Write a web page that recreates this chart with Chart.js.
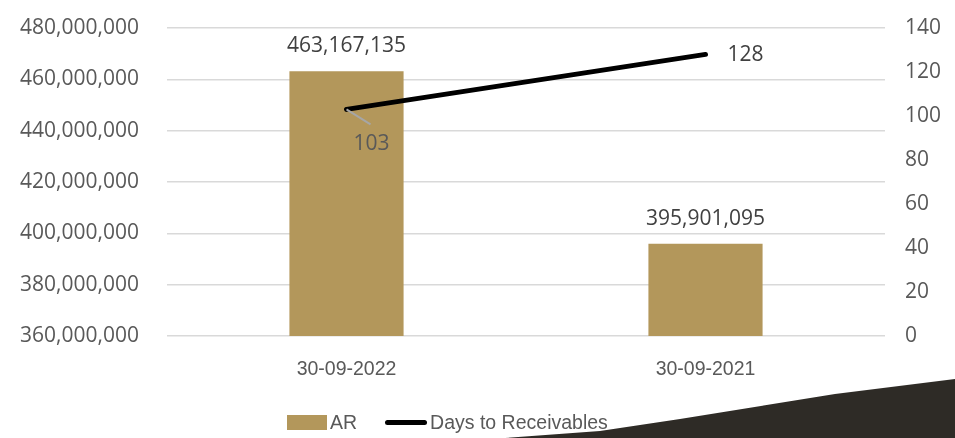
<!DOCTYPE html>
<html>
<head>
<meta charset="utf-8">
<script src="https://cdn.jsdelivr.net/npm/chart.js@4.4.1/dist/chart.umd.min.js"></script>
<style>
    html, body { margin: 0; padding: 0; background: #fff; }
    .wrap { position: relative; width: 955px; height: 438px; overflow: hidden; }
    .corner {
        position: absolute; left: 0; top: 0; width: 955px; height: 438px;
        background: #2e2b26;
        clip-path: polygon(505px 438px, 600px 431px, 680px 419px, 835px 394px, 955px 379px, 955px 438px);
        filter: blur(0.6px);
    }
    canvas { position: absolute; left: 0; top: 0; }
    .legend {
        position: absolute; left: 287px; top: 410px;
        display: flex; align-items: center;
        font-family: 'Liberation Sans Narrow', 'Arial Narrow', sans-serif;
        font-size: 19.5px; color: #595959; line-height: 24px;
    }
    .legend .box { width: 40px; height: 15px; background: #b3975b; margin-right: 3px; }
    .legend .ln { width: 42px; height: 5px; background: #000; border-radius: 3px; margin: 0 3px 0 28px; }
</style>
</head>
<body>
<div class="wrap">
    <div class="corner"></div>
    <canvas id="arChart" width="955" height="438"></canvas>
    <div class="legend">
        <span class="box"></span><span>AR</span>
        <span class="ln"></span><span>Days to Receivables</span>
    </div>
</div>
<script>
    var periods = ['30-09-2022', '30-09-2021'];
    var arValues = [463167135, 395901095];
    var daysValues = [103, 128];

    var tickFont = { family: "'Open Sans', sans-serif", size: 21 };
    var catFont = { family: "'Liberation Sans Narrow', 'Arial Narrow', sans-serif", size: 19.5 };

    // fixed axis widths, and no extra room above/below for the end labels
    function fixWidth(w) {
        return function (s) {
            s.width = w;
            s.paddingTop = 0;
            s.paddingBottom = 0;
        };
    }

    // value labels: above each bar, and next to each point of the days line
    var valueLabels = {
        id: 'valueLabels',
        afterDatasetsDraw: function (chart) {
            var ctx = chart.ctx;
            ctx.save();
            ctx.font = tickFont.size + 'px ' + tickFont.family;
            ctx.fillStyle = '#404040';
            ctx.textAlign = 'center';
            ctx.textBaseline = 'middle';

            chart.getDatasetMeta(0).data.forEach(function (bar, i) {
                ctx.fillText(arValues[i].toLocaleString('en-US'), bar.x, bar.y - 25);
            });

            var pts = chart.getDatasetMeta(1).data;
            // first point: label below right with a leader line
            var p0 = pts[0];
            ctx.strokeStyle = '#a6a6a6';
            ctx.lineWidth = 2;
            ctx.beginPath();
            ctx.moveTo(p0.x, p0.y);
            ctx.lineTo(p0.x + 24, p0.y + 15);
            ctx.stroke();
            ctx.fillStyle = '#595959';
            ctx.fillText(String(daysValues[0]), p0.x + 25, p0.y + 35);

            // second point: label to the right
            var p1 = pts[1];
            ctx.fillStyle = '#404040';
            ctx.textAlign = 'left';
            ctx.fillText(String(daysValues[1]), p1.x + 22, p1.y + 1);
            ctx.restore();
        }
    };

    new Chart(document.getElementById('arChart'), {
        type: 'bar',
        data: {
            labels: periods,
            datasets: [
                {
                    label: 'AR',
                    data: arValues,
                    backgroundColor: '#b3975b',
                    barPercentage: 0.318,
                    categoryPercentage: 1,
                    yAxisID: 'y',
                    order: 1
                },
                {
                    type: 'line',
                    label: 'Days to Receivables',
                    data: daysValues,
                    borderColor: '#000',
                    borderWidth: 5,
                    borderCapStyle: 'round',
                    pointRadius: 0,
                    tension: 0,
                    yAxisID: 'y1',
                    order: 0
                }
            ]
        },
        options: {
            responsive: false,
            animation: false,
            layout: { autoPadding: false, padding: { top: 28, left: 20, right: 14, bottom: 58 } },
            plugins: {
                legend: { display: false },
                tooltip: { enabled: false }
            },
            scales: {
                x: {
                    grid: { display: false, drawTicks: false },
                    border: { display: false },
                    ticks: { font: catFont, color: '#595959', padding: 22 },
                    afterFit: function (s) { s.height = 44; }
                },
                y: {
                    position: 'left',
                    min: 360000000,
                    max: 480000000,
                    grid: { color: '#d9d9d9', lineWidth: 1.5, drawTicks: false },
                    border: { display: false },
                    ticks: {
                        stepSize: 20000000,
                        font: tickFont,
                        color: '#595959',
                        padding: 28,
                        callback: function (v) { return v.toLocaleString('en-US'); }
                    },
                    afterFit: fixWidth(147)
                },
                y1: {
                    position: 'right',
                    min: 0,
                    max: 140,
                    grid: { drawOnChartArea: false, drawTicks: false },
                    border: { display: false },
                    ticks: { stepSize: 20, font: tickFont, color: '#595959', padding: 20 },
                    afterFit: fixWidth(56)
                }
            }
        },
        plugins: [valueLabels]
    });
</script>
</body>
</html>
